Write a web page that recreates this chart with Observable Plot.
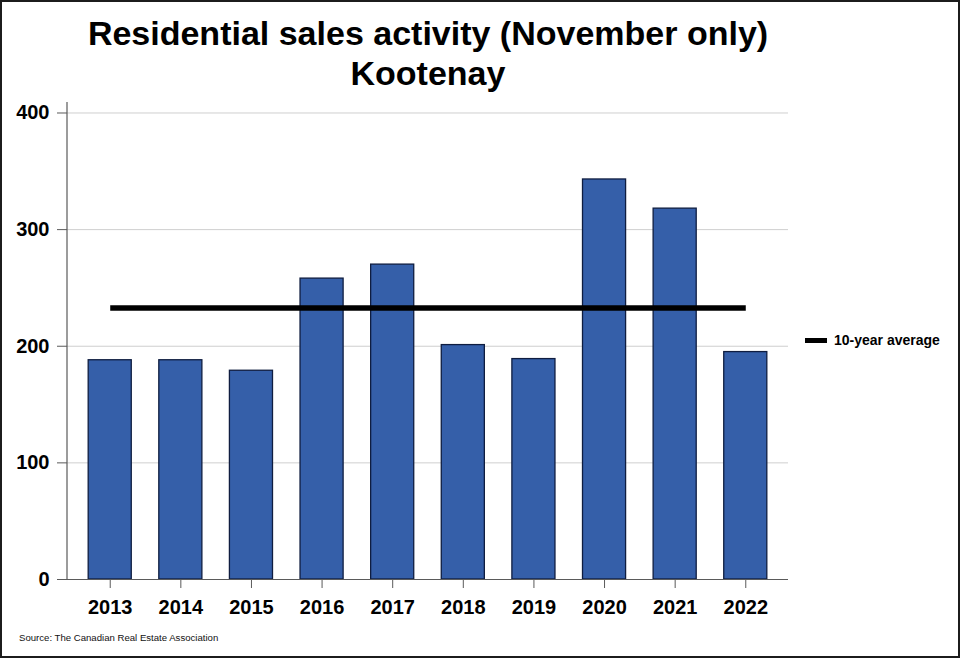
<!DOCTYPE html>
<html>
<head>
<meta charset="utf-8">
<script src="https://cdn.jsdelivr.net/npm/d3@7"></script>
<script src="https://cdn.jsdelivr.net/npm/@observablehq/plot@0.6"></script>
<style>
  html, body { margin: 0; padding: 0; background: #fff; }
  #wrap { position: relative; width: 960px; height: 658px; overflow: hidden; font-family: "Liberation Sans", Arial, sans-serif; }
  #title { width: 856px; height: 95px; box-sizing: border-box; padding-top: 13px; text-align: center; font-size: 34px; font-weight: bold; line-height: 40px; color: #000; }
  #legend { position: absolute; left: 805px; top: 332px; font-size: 14px; font-weight: bold; color: #000; display: flex; align-items: center; }
  #legend .sw { display: inline-block; width: 22px; height: 5px; background: #000; margin-right: 7px; }
  #source { position: absolute; left: 19px; top: 632px; font-size: 9.6px; color: #111; }
  #border { position: absolute; left: 0; top: 0; width: 960px; height: 658px; box-sizing: border-box; border: 2px solid #1c1c1c; pointer-events: none; }
</style>
</head>
<body>
<div id="wrap">
  <div id="title">Residential sales activity (November only)<br>Kootenay</div>
  <div id="chart"></div>
  <div id="legend"><span class="sw"></span>10-year average</div>
  <div id="source">Source: The Canadian Real Estate Association</div>
  <div id="border"></div>
</div>
<script>
const years = ["2013","2014","2015","2016","2017","2018","2019","2020","2021","2022"];
const sales = [188, 188, 179, 258, 270, 201, 189, 343, 318, 195];
const yTicks = [0, 100, 200, 300, 400];
const gridTicks = [100, 200, 300, 400];

const data = years.map((y, i) => ({year: y, sales: sales[i]}));
const avg = d3.mean(sales);

const yAxisLine = (index, scales, values, dims) => {
  const g = d3.create("svg:g");
  g.append("line")
    .attr("x1", dims.marginLeft).attr("x2", dims.marginLeft)
    .attr("y1", dims.marginTop).attr("y2", dims.height - dims.marginBottom)
    .attr("stroke", "#5a5a5a").attr("stroke-width", 1.2);
  return g.node();
};

const chart = Plot.plot({
  width: 960,
  height: 563,
  marginLeft: 67,
  marginRight: 172,
  marginTop: 7,
  marginBottom: 79,
  style: {fontFamily: '"Liberation Sans", Arial, sans-serif', fontSize: "20px", fontWeight: "bold", color: "#000", background: "transparent", overflow: "visible"},
  x: {domain: years, paddingInner: 0.39, paddingOuter: 0.3, round: false, label: null},
  y: {domain: [0, 409], label: null},
  marks: [
    Plot.gridY(gridTicks, {stroke: "#cfcfcf", strokeOpacity: 1, strokeWidth: 1}),
    Plot.barY(data, {x: "year", y: "sales", fill: "#355FA9", stroke: "#0f1d40", strokeWidth: 1.3}),
    Plot.lineY(years, {x: d => d, y: () => avg, stroke: "#000", strokeWidth: 5.5, strokeLinecap: "butt"}),
    Plot.ruleY([0], {stroke: "#5a5a5a", strokeWidth: 1.2}),
    yAxisLine,
    Plot.axisY(yTicks, {tickSize: 10, tickPadding: 8, stroke: "#5a5a5a", fill: "#000", fontSize: 20, fontWeight: "bold", label: null}),
    Plot.axisX({tickSize: 9, tickPadding: 11, stroke: "#5a5a5a", fill: "#000", fontSize: 20, fontWeight: "bold", label: null})
  ]
});
document.getElementById("chart").appendChild(chart);
</script>
</body>
</html>
